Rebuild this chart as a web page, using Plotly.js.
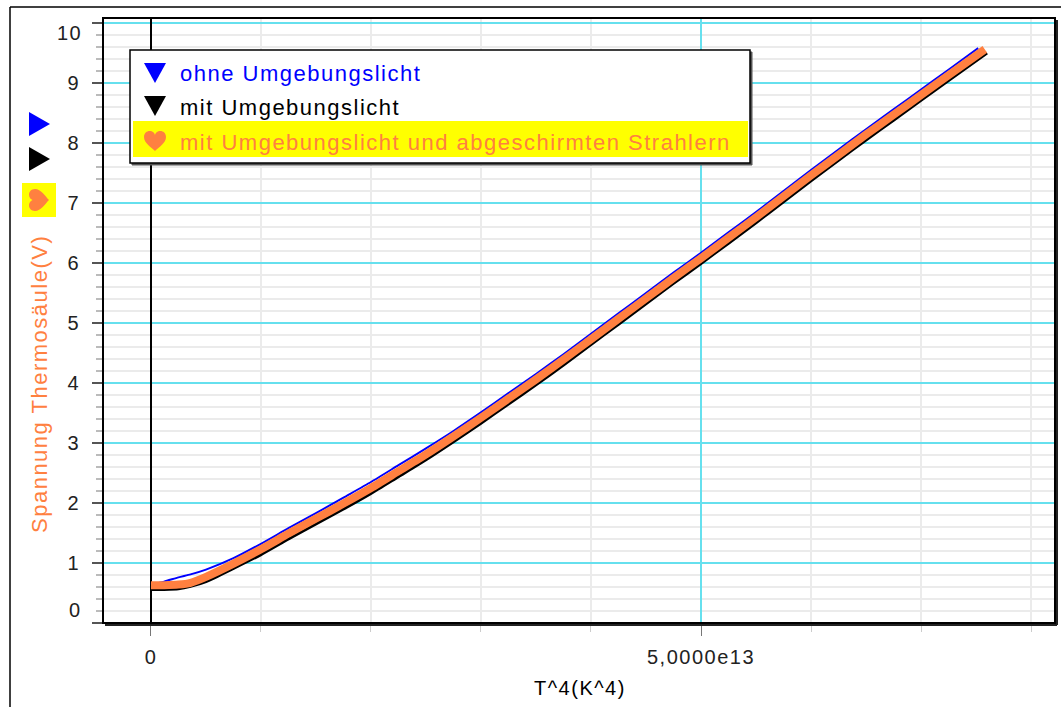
<!DOCTYPE html>
<html>
<head>
<meta charset="utf-8">
<script src="https://cdn.plot.ly/plotly-3.0.1.min.js"></script>
<style>
  html, body { margin: 0; padding: 0; background: #fff; }
  #chart { width: 1061px; height: 707px; }
  text { letter-spacing: 1.5px; }
</style>
</head>
<body>
<div id="chart"></div>
<script>
// Thermopile voltage against T^4 for three measurement runs
const t4Ohne = [0, 0.12e13, 0.25e13, 0.36e13, 0.5e13, 0.75e13, 1.0e13, 1.25e13, 1.5e13, 1.75e13,
  2.0e13, 2.25e13, 2.5e13, 2.75e13, 3.0e13, 3.25e13, 3.5e13, 3.75e13, 4.0e13, 4.25e13,
  4.5e13, 4.75e13, 5.0e13, 5.25e13, 5.5e13, 5.75e13, 6.0e13, 6.25e13, 6.5e13, 6.75e13,
  7.0e13, 7.25e13, 7.52e13];
const uOhne = [0.64, 0.69, 0.76, 0.81, 0.89, 1.08, 1.32, 1.58, 1.83, 2.09,
  2.35, 2.63, 2.91, 3.20, 3.51, 3.83, 4.15, 4.48, 4.82, 5.16,
  5.50, 5.84, 6.17, 6.51, 6.85, 7.20, 7.55, 7.89, 8.23, 8.56,
  8.89, 9.22, 9.58];

const t4Mit = [0, 0.12e13, 0.25e13, 0.36e13, 0.5e13, 0.75e13, 1.0e13, 1.25e13, 1.5e13, 1.75e13,
  2.0e13, 2.25e13, 2.5e13, 2.75e13, 3.0e13, 3.25e13, 3.5e13, 3.75e13, 4.0e13, 4.25e13,
  4.5e13, 4.75e13, 5.0e13, 5.25e13, 5.5e13, 5.75e13, 6.0e13, 6.25e13, 6.5e13, 6.75e13,
  7.0e13, 7.25e13, 7.60e13];
const uMit = [0.56, 0.56, 0.57, 0.61, 0.69, 0.91, 1.14, 1.40, 1.65, 1.90,
  2.16, 2.44, 2.72, 3.02, 3.33, 3.65, 3.97, 4.30, 4.64, 4.98,
  5.32, 5.66, 5.99, 6.33, 6.67, 7.02, 7.37, 7.71, 8.05, 8.38,
  8.71, 9.04, 9.50];

const t4Abgeschirmt = [0, 0.12e13, 0.25e13, 0.36e13, 0.5e13, 0.75e13, 1.0e13, 1.25e13, 1.5e13, 1.75e13,
  2.0e13, 2.25e13, 2.5e13, 2.75e13, 3.0e13, 3.25e13, 3.5e13, 3.75e13, 4.0e13, 4.25e13,
  4.5e13, 4.75e13, 5.0e13, 5.25e13, 5.5e13, 5.75e13, 6.0e13, 6.25e13, 6.5e13, 6.75e13,
  7.0e13, 7.25e13, 7.58e13];
const uAbgeschirmt = [0.63, 0.63, 0.64, 0.67, 0.77, 0.99, 1.23, 1.49, 1.74, 1.99,
  2.25, 2.53, 2.81, 3.11, 3.42, 3.74, 4.06, 4.39, 4.73, 5.07,
  5.41, 5.75, 6.08, 6.42, 6.76, 7.11, 7.46, 7.80, 8.14, 8.47,
  8.80, 9.13, 9.56];

const seriesNames = ['ohne Umgebungslicht', 'mit Umgebungslicht',
  'mit Umgebungslicht und abgeschirmten Strahlern'];
const seriesColors = ['#0000FF', '#000000', '#FF8040'];

const xTickVals = [0, 5e13];
const xTickText = ['0', '5,0000e13'];
const yTickVals = [0, 1, 2, 3, 4, 5, 6, 7, 8, 9, 10];
const yTickText = ['', '1', '2', '3', '4', '5', '6', '7', '8', '9', ''];
const yEdgeLabels = ['0', '10'];

const xTitle = 'T^4(K^4)';
const yTitle = 'Spannung Thermosäule(V)';

// page geometry (pixels) of the plotting frame
const W = 1061, H = 707;
const L = 103, R = 1055, T = 18, B = 623;
const px = v => (v - L) / (R - L);
const py = v => (B - v) / (B - T);

const FONT = 'Liberation Sans, Arial, sans-serif';
const CYAN = '#66E0EE';
const MINOR = '#EBEBEB';

const traces = [
  { x: t4Ohne, y: uOhne, name: seriesNames[0], mode: 'lines',
    line: { color: seriesColors[0], width: 2, shape: 'spline', smoothing: 0.6 } },
  { x: t4Mit, y: uMit, name: seriesNames[1], mode: 'lines',
    line: { color: seriesColors[1], width: 3, shape: 'spline', smoothing: 0.6 } },
  { x: t4Abgeschirmt, y: uAbgeschirmt, name: seriesNames[2], mode: 'lines',
    line: { color: seriesColors[2], width: 8, shape: 'spline', smoothing: 0.6 } }
];

function rectPx(x0, y0, x1, y1, fill, lineColor, lineWidth) {
  return { type: 'rect', xref: 'paper', yref: 'paper',
    x0: px(x0), x1: px(x1), y0: py(y1), y1: py(y0),
    fillcolor: fill, line: { color: lineColor || 'rgba(0,0,0,0)', width: lineWidth || 0 } };
}
function linePx(x0, y0, x1, y1, color, width) {
  return { type: 'line', xref: 'paper', yref: 'paper',
    x0: px(x0), x1: px(x1), y0: py(y0), y1: py(y1), line: { color: color, width: width } };
}
function glyph(cx, cy, path, color) {
  return { type: 'path', xref: 'paper', yref: 'paper', xsizemode: 'pixel', ysizemode: 'pixel',
    xanchor: px(cx), yanchor: py(cy), path: path, fillcolor: color, line: { width: 0 } };
}

const TRI_DOWN = 'M-11,10 L11,10 L0,-10 Z';
const TRI_RIGHT = 'M-10,12 L-10,-12 L11,0 Z';
const HEART_DOWN = 'M0,-10 C-4,-6 -11,-2 -11,4 C-11,8 -8,10 -5.5,10 C-2.5,10 0,8 0,5.5 C0,8 2.5,10 5.5,10 C8,10 11,8 11,4 C11,-2 4,-6 0,-10 Z';
const HEART_RIGHT = 'M10,0 C6,-4 2,-11 -4,-11 C-8,-11 -10,-8 -10,-5.5 C-10,-2.5 -8,0 -5.5,0 C-8,0 -10,2.5 -10,5.5 C-10,8 -8,11 -4,11 C2,11 6,4 10,0 Z';

const shapes = [
  // outer border
  linePx(10, 7, 10, H, '#000', 1.5),
  linePx(10, 7, W, 7, '#000', 1.5),
  // plotting frame with a drop shadow
  linePx(L + 2, B + 2, R + 2, B + 2, '#222', 2),
  linePx(R + 2, T + 2, R + 2, B + 2, '#222', 2),
  rectPx(L, T, R, B, 'rgba(0,0,0,0)', '#000', 2),
  // legend box
  rectPx(132, 52, 752, 165, '#555', '#555', 1),
  rectPx(130, 50, 750, 163, '#FFFFFF', '#000', 1.5),
  rectPx(133, 121, 748, 157, '#FFFF00'),
  glyph(155, 73, TRI_DOWN, seriesColors[0]),
  glyph(155, 106, TRI_DOWN, seriesColors[1]),
  glyph(155, 141, HEART_DOWN, seriesColors[2]),
  // series markers beside the value axis
  glyph(39, 124, TRI_RIGHT, seriesColors[0]),
  glyph(39, 159, TRI_RIGHT, seriesColors[1]),
  rectPx(22, 183, 56, 217, '#FFFF00'),
  glyph(39, 200, HEART_RIGHT, seriesColors[2])
];

function note(text, x, y, opts) {
  return Object.assign({ text: text, xref: 'paper', yref: 'paper', x: px(x), y: py(y),
    showarrow: false, xanchor: 'left', yanchor: 'middle',
    font: { family: FONT, size: 22, color: '#000' } }, opts || {});
}

const annotations = [
  note(seriesNames[0], 178, 74, { font: { family: FONT, size: 22, color: seriesColors[0] } }),
  note(seriesNames[1], 178, 107, { font: { family: FONT, size: 22, color: seriesColors[1] } }),
  note(seriesNames[2], 178, 142, { font: { family: FONT, size: 22, color: seriesColors[2] } }),
  note(yTitle, 40, 384, { xanchor: 'center', textangle: -90,
    font: { family: FONT, size: 22, color: seriesColors[2] } }),
  note(xTitle, 580, 688, { xanchor: 'center', font: { family: FONT, size: 20, color: '#000' } }),
  note(yEdgeLabels[0], 84, 610, { xanchor: 'right', font: { family: FONT, size: 20, color: '#222' } }),
  note(yEdgeLabels[1], 84, 33, { xanchor: 'right', font: { family: FONT, size: 20, color: '#222' } })
];

const layout = {
  width: W, height: H,
  margin: { l: L, r: W - R, t: T, b: H - B },
  paper_bgcolor: '#fff', plot_bgcolor: '#fff',
  showlegend: false,
  xaxis: {
    range: [-0.436e13, 8.218e13],
    tickmode: 'array', tickvals: xTickVals, ticktext: xTickText,
    ticks: 'outside', ticklen: 12, tickcolor: '#777', tickwidth: 1,
    ticklabelstandoff: 4,
    tickfont: { family: FONT, size: 20, color: '#222' },
    showgrid: true, gridcolor: CYAN, gridwidth: 1.5,
    zeroline: true, zerolinecolor: '#000', zerolinewidth: 2,
    showline: false,
    minor: { tick0: 0, dtick: 1e13, ticks: 'outside', ticklen: 8, tickcolor: '#CCC',
      showgrid: true, gridcolor: MINOR, gridwidth: 1.5 }
  },
  yaxis: {
    range: [0, 10.083],
    tickmode: 'array', tickvals: yTickVals, ticktext: yTickText,
    ticks: 'outside', ticklen: 10, tickcolor: '#555', tickwidth: 1.5,
    ticklabelstandoff: 8,
    tickfont: { family: FONT, size: 20, color: '#222' },
    showgrid: true, gridcolor: CYAN, gridwidth: 1.5,
    zeroline: false, showline: false,
    minor: { tick0: 0, dtick: 0.2, ticks: 'outside', ticklen: 6, tickcolor: '#BBB',
      showgrid: true, gridcolor: MINOR, gridwidth: 1.5 }
  },
  shapes: shapes,
  annotations: annotations
};

Plotly.newPlot('chart', traces, layout, { staticPlot: true, displayModeBar: false });
</script>
</body>
</html>
